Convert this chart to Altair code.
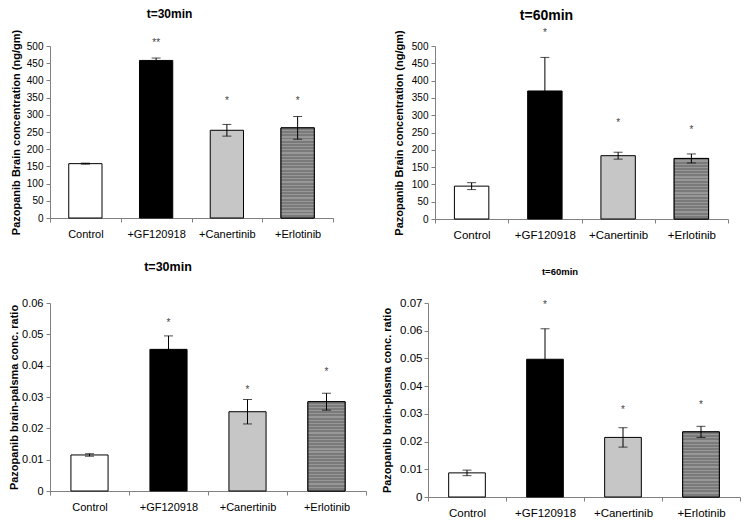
import altair as alt
import pandas as pd

categories = ["Control", "+GF120918", "+Canertinib", "+Erlotinib"]
fills = ["#ffffff", "#000000", "#c6c6c6", "#828282"]

# t=30min brain concentration
b30_mean = [158, 458, 255, 262]
b30_err = [1.5, 7, 17, 33]
b30_star = ["", "**", "*", "*"]
b30_star_y = [0, 516, 349, 349]

# t=60min brain concentration
b60_mean = [95, 370, 183, 175]
b60_err = [10, 97, 10, 13]
b60_star = ["", "*", "*", "*"]
b60_star_y = [0, 545, 285, 265]

# t=30min brain/plasma ratio
r30_mean = [0.0115, 0.0452, 0.0253, 0.0285]
r30_err = [0.0004, 0.0043, 0.0039, 0.0027]
r30_star = ["", "*", "*", "*"]
r30_star_y = [0, 0.0547, 0.0333, 0.0388]

# t=60min brain/plasma ratio
r60_mean = [0.0087, 0.0497, 0.0215, 0.0235]
r60_err = [0.001, 0.011, 0.0035, 0.002]
r60_star = ["", "*", "*", "*"]
r60_star_y = [0, 0.0705, 0.0325, 0.0344]

brain_ticks = [0, 50, 100, 150, 200, 250, 300, 350, 400, 450, 500]
ratio30_ticks = [0, 0.01, 0.02, 0.03, 0.04, 0.05, 0.06]
ratio60_ticks = [0, 0.01, 0.02, 0.03, 0.04, 0.05, 0.06, 0.07]

FONT = "Liberation Sans"


def stripes(n, dark, light):
    stops = []
    for i in range(n):
        a, b, c = i / n, (i + 0.6) / n, (i + 1) / n
        stops += [alt.GradientStop(offset=a, color=dark),
                  alt.GradientStop(offset=b, color=dark),
                  alt.GradientStop(offset=b, color=light),
                  alt.GradientStop(offset=c, color=light)]
    return alt.LinearGradient(gradient="linear", stops=stops,
                              x1=0, x2=0, y1=0, y2=1)


def panel(mean, err, star, star_y, title, ytitle, ticks, w, h,
          tfs, yfs, lfs, xfs, title_dx, title_off, lpad, tpad, ratio):
    df = pd.DataFrame({
        "cat": categories,
        "mean": mean,
        "lo": [m - e for m, e in zip(mean, err)],
        "hi": [m + e for m, e in zip(mean, err)],
        "star": star,
        "sy": star_y,
    })
    if ratio:
        label_expr = "datum.value == 0 ? '0' : format(datum.value, '.2f')"
    else:
        label_expr = "format(datum.value, 'd')"
    yscale = alt.Scale(domain=[ticks[0], ticks[-1]], nice=False, zero=True)
    xscale = alt.Scale(paddingInner=0, paddingOuter=0)
    xaxis = alt.Axis(labelAngle=0, tickBand="extent", tickSize=4,
                     labelPadding=6, labelFontSize=xfs,
                     labelFont=FONT, labelColor="#000",
                     domainColor="#808080", tickColor="#808080",
                     grid=False)
    yaxis = alt.Axis(values=ticks, labelExpr=label_expr,
                     labelOverlap=False,
                     tickSize=4, labelPadding=lpad,
                     labelFontSize=lfs, labelFont=FONT,
                     labelColor="#000", titleFont=FONT,
                     titleFontSize=yfs, titleFontWeight="bold",
                     titleColor="#000", titlePadding=tpad,
                     domainColor="#808080", tickColor="#808080",
                     grid=False)

    def X():
        return alt.X("cat:N", sort=categories, title=None, scale=xscale, axis=xaxis)

    def Y(f):
        return alt.Y(f, title=ytitle, scale=yscale, axis=yaxis)

    base = alt.Chart(df)
    bars = base.mark_bar(stroke="#000", strokeWidth=1,
                         width=alt.RelativeBandSize(0.47)).encode(
        x=X(), y=Y("mean:Q"),
        fill=alt.Fill("cat:N", scale=alt.Scale(domain=categories, range=fills),
                      legend=None))
    n_stripes = max(4, round(mean[3] / ticks[-1] * h / 3.2))
    erl = base.transform_filter("datum.cat == '+Erlotinib'").mark_bar(
        stroke="#000", strokeWidth=1, width=alt.RelativeBandSize(0.47),
        fill=stripes(n_stripes, "#7a7a7a", "#979797")).encode(
        x=X(), y=Y("mean:Q"))
    rule = base.mark_rule(color="#000", strokeWidth=1).encode(
        x=X(), y=Y("lo:Q"), y2="hi:Q")
    tick_hi = base.mark_tick(color="#000", thickness=1, size=9).encode(
        x=X(), y=Y("hi:Q"))
    tick_lo = base.mark_tick(color="#000", thickness=1, size=9).encode(
        x=X(), y=Y("lo:Q"))
    stars = base.transform_filter("datum.star != ''").mark_text(
        font=FONT, fontSize=10, fill="#444", baseline="middle", dy=3).encode(
        x=X(), y=Y("sy:Q"), text="star:N")
    return alt.layer(bars, erl, rule, tick_hi, tick_lo, stars).properties(
        width=w, height=h,
        title=alt.TitleParams(title, font=FONT, fontSize=tfs, fontWeight="bold",
                              color="#000", anchor="middle", frame="group",
                              dx=title_dx, offset=title_off))


p1 = panel(b30_mean, b30_err, b30_star, b30_star_y, "t=30min",
           "Pazopanib Brain concentration (ng/gm)", brain_ticks,
           283, 172, 12, 11, 10, 11, -22, 8, 3, 5, False)
p2 = panel(b60_mean, b60_err, b60_star, b60_star_y, "t=60min",
           "Pazopanib Brain concentration (ng/gm)", brain_ticks,
           293, 173, 14, 11, 10, 11.5, -35, 5, 3, 7, False)
p3 = panel(r30_mean, r30_err, r30_star, r30_star_y, "t=30min",
           "Pazopanib brain-palsma conc. ratio", ratio30_ticks,
           316, 188, 12.5, 11, 11, 11, -40, 24, 3, 2, True)
p4 = panel(r60_mean, r60_err, r60_star, r60_star_y, "t=60min",
           "Pazopanib brain-plasma conc. ratio", ratio60_ticks,
           312, 194, 9.5, 11, 11.5, 11.5, -24, 21, 2, 7, True)

chart = alt.vconcat(
    alt.hconcat(p1, p2, spacing=59),
    alt.hconcat(p3, p4, spacing=14),
    spacing=19,
).properties(padding={"left": 0, "top": 0, "right": 0, "bottom": 0}
).configure_view(stroke=None)

chart.save("out.html", embed_options={"renderer": "svg", "actions": False})
